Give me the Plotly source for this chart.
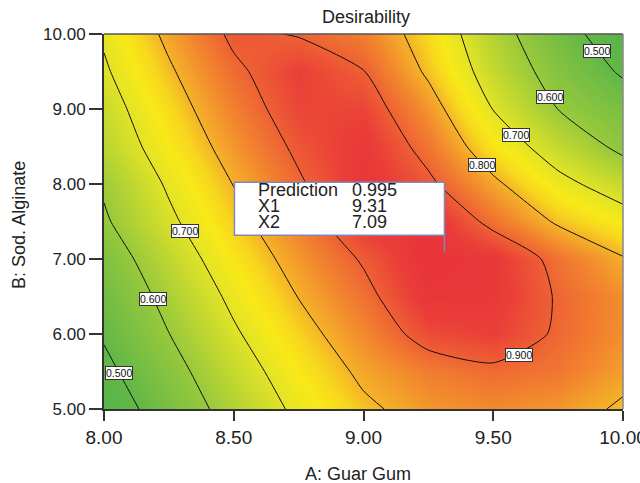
import numpy as np
import plotly.graph_objects as go

# Factor levels of the response grid
guar_gum = [8.00, 8.25, 8.50, 8.75, 9.00, 9.25, 9.50, 9.75, 10.00]          # A
sod_alginate = [5.0, 5.5, 6.0, 6.5, 7.0, 7.5, 8.0, 8.5, 9.0, 9.5, 10.0]      # B

# Desirability at each (B row, A column)
d_b50 = [0.450, 0.543, 0.634, 0.717, 0.786, 0.830, 0.845, 0.830, 0.790]
d_b55 = [0.480, 0.570, 0.661, 0.743, 0.815, 0.860, 0.885, 0.870, 0.820]
d_b60 = [0.508, 0.599, 0.690, 0.772, 0.847, 0.930, 0.950, 0.890, 0.840]
d_b65 = [0.529, 0.624, 0.717, 0.802, 0.877, 0.975, 0.970, 0.893, 0.840]
d_b70 = [0.555, 0.653, 0.746, 0.830, 0.908, 0.990, 0.970, 0.875, 0.805]
d_b75 = [0.590, 0.685, 0.776, 0.860, 0.960, 0.985, 0.877, 0.790, 0.734]
d_b80 = [0.610, 0.710, 0.802, 0.890, 0.975, 0.915, 0.815, 0.722, 0.660]
d_b85 = [0.645, 0.739, 0.831, 0.915, 0.970, 0.873, 0.750, 0.660, 0.580]
d_b90 = [0.665, 0.764, 0.858, 0.940, 0.940, 0.833, 0.698, 0.599, 0.542]
d_b95 = [0.690, 0.790, 0.885, 0.950, 0.902, 0.788, 0.661, 0.565, 0.490]
d_b100 = [0.710, 0.817, 0.915, 0.895, 0.860, 0.764, 0.636, 0.535, 0.450]

contour_levels = [0.5, 0.6, 0.7, 0.8, 0.9]

# Flagged optimum
pred_value = 0.995
pred_x1 = 9.31
pred_x2 = 7.09

z = np.array([d_b50, d_b55, d_b60, d_b65, d_b70, d_b75,
              d_b80, d_b85, d_b90, d_b95, d_b100])
xs = np.array(guar_gum)
ys = np.array(sod_alginate)

FONT = "Liberation Sans, Arial, sans-serif"
INK = "#222222"

ZMIN, ZMAX = 0.44, 1.0


def stop(v):
    return (v - ZMIN) / (ZMAX - ZMIN)


colorscale = [
    [0.0, "rgb(86,180,72)"],
    [stop(0.50), "rgb(98,183,71)"],
    [stop(0.60), "rgb(152,201,60)"],
    [stop(0.70), "rgb(226,227,38)"],
    [stop(0.74), "rgb(248,233,24)"],
    [stop(0.77), "rgb(247,214,30)"],
    [stop(0.80), "rgb(245,178,40)"],
    [stop(0.85), "rgb(242,134,46)"],
    [stop(0.90), "rgb(238,96,52)"],
    [stop(0.95), "rgb(234,62,56)"],
    [1.0, "rgb(232,48,58)"],
]

fig = go.Figure()
fig.add_trace(go.Heatmap(
    x=xs, y=ys, z=z, zsmooth="best", colorscale=colorscale,
    zmin=ZMIN, zmax=ZMAX, showscale=False, hoverinfo="skip",
))
fig.add_trace(go.Contour(
    x=xs, y=ys, z=z, showscale=False, hoverinfo="skip",
    contours=dict(coloring="none", start=contour_levels[0],
                  end=contour_levels[-1], size=0.1),
    line=dict(color="#111111", width=1, smoothing=0.6),
))


def bilinear(px, py):
    i = int(np.clip(np.searchsorted(xs, px) - 1, 0, len(xs) - 2))
    j = int(np.clip(np.searchsorted(ys, py) - 1, 0, len(ys) - 2))
    tx = (px - xs[i]) / (xs[i + 1] - xs[i])
    ty = (py - ys[j]) / (ys[j + 1] - ys[j])
    return ((1 - tx) * (1 - ty) * z[j, i] + tx * (1 - ty) * z[j, i + 1]
            + (1 - tx) * ty * z[j + 1, i] + tx * ty * z[j + 1, i + 1])


def crossing(level, along, fixed, lo, hi):
    """Point where the level is crossed on a horizontal or vertical run."""
    t = np.linspace(lo, hi, 600)
    if along == "x":
        v = np.array([bilinear(a, fixed) for a in t])
    else:
        v = np.array([bilinear(fixed, a) for a in t])
    k = int(np.argmin(np.abs(v - level)))
    return (t[k], fixed) if along == "x" else (fixed, t[k])


# Where each contour label sits: (level, run direction, fixed coord, range)
label_runs = [
    (0.5, "x", 5.48, 8.0, 8.5),
    (0.6, "x", 6.47, 8.0, 8.5),
    (0.7, "x", 7.37, 8.1, 8.6),
    (0.8, "x", 8.26, 9.3, 9.8),
    (0.7, "x", 8.66, 9.4, 9.9),
    (0.6, "x", 9.16, 9.5, 10.0),
    (0.5, "x", 9.78, 9.7, 10.0),
    (0.9, "y", 9.60, 5.5, 6.3),
]

annotations = []
for level, along, fixed, lo, hi in label_runs:
    lx, ly = crossing(level, along, fixed, lo, hi)
    annotations.append(dict(
        x=lx, y=ly, xref="x", yref="y", text=f"{level:.3f}", showarrow=False,
        font=dict(family=FONT, size=10.5, color="#111111"),
        bgcolor="white", bordercolor="#333333", borderwidth=1, borderpad=0,
    ))

# Prediction flag text, offset in pixels from the flagged point
rows = [("Prediction", f"{pred_value:.3f}", 62),
        ("X1", f"{pred_x1:.2f}", 46),
        ("X2", f"{pred_x2:.2f}", 30)]
for name, val, dy in rows:
    annotations.append(dict(
        x=pred_x1, y=pred_x2, xref="x", yref="y", text=name, showarrow=False,
        xanchor="left", yanchor="middle", xshift=-188, yshift=dy,
        font=dict(family=FONT, size=18, color=INK)))
    annotations.append(dict(
        x=pred_x1, y=pred_x2, xref="x", yref="y", text=val, showarrow=False,
        xanchor="left", yanchor="middle", xshift=-94, yshift=dy,
        font=dict(family=FONT, size=18, color=INK)))

# Axis titles
annotations.append(dict(
    x=0.49, y=-0.173, xref="paper", yref="paper", text="A: Guar Gum",
    showarrow=False, xanchor="center", yanchor="middle",
    font=dict(family=FONT, size=18, color=INK)))
annotations.append(dict(
    x=-0.1625, y=0.49, xref="paper", yref="paper", text="B: Sod. Alginate",
    showarrow=False, textangle=-90, xanchor="center", yanchor="middle",
    font=dict(family=FONT, size=18, color=INK)))

flag_color = "#8585bd"
shapes = [
    dict(type="rect", xref="x", yref="y", xsizemode="pixel", ysizemode="pixel",
         xanchor=pred_x1, yanchor=pred_x2, x0=-209.5, x1=0.5, y0=17, y1=70,
         fillcolor="white", line=dict(color=flag_color, width=1.5)),
    dict(type="line", xref="x", yref="y", xsizemode="pixel", ysizemode="pixel",
         xanchor=pred_x1, yanchor=pred_x2, x0=0.5, x1=0.5, y0=0, y1=17,
         line=dict(color=flag_color, width=1.5)),
    # frame on the top and right sides
    dict(type="line", xref="paper", yref="paper", x0=0, x1=1, y0=1, y1=1,
         line=dict(color="#555555", width=1.5)),
    dict(type="line", xref="paper", yref="paper", x0=1, x1=1, y0=0, y1=1,
         line=dict(color="#888888", width=1.5)),
]

fig.update_layout(
    width=640, height=483,
    margin=dict(l=104, r=17, t=34, b=74, autoexpand=False),
    paper_bgcolor="white", plot_bgcolor="white",
    showlegend=False,
    title=dict(text="Desirability", x=0.505, xref="paper", xanchor="center",
               y=1 - 17 / 483, yref="container", yanchor="middle",
               font=dict(family=FONT, size=18, color=INK)),
    xaxis=dict(range=[8.0, 10.0], tickvals=[8.0, 8.5, 9.0, 9.5, 10.0],
               ticktext=["8.00", "8.50", "9.00", "9.50", "10.00"],
               ticks="outside", ticklen=10, tickwidth=1.5, tickcolor="#333333",
               ticklabeloverflow="allow", automargin=False,
               showline=True, linecolor="#333333", linewidth=2,
               showgrid=False, zeroline=False,
               tickfont=dict(family=FONT, size=19, color=INK)),
    yaxis=dict(range=[5.0, 10.0], tickvals=[5, 6, 7, 8, 9, 10],
               ticktext=["5.00", "6.00", "7.00", "8.00", "9.00", "10.00"],
               ticks="outside", ticklen=13, tickwidth=1.5, tickcolor="#333333",
               automargin=False,
               showline=True, linecolor="#333333", linewidth=2,
               showgrid=False, zeroline=False,
               tickfont=dict(family=FONT, size=17, color=INK)),
    annotations=annotations,
    shapes=shapes,
)

fig.write_html("out.html")
